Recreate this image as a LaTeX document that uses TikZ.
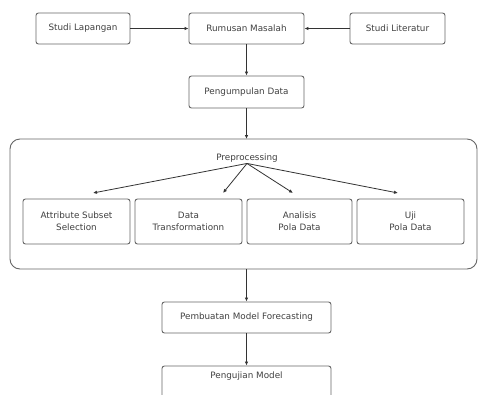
\documentclass[tikz,border=0pt]{standalone}
\usepackage{fontspec}
\setmainfont{DejaVu Sans}
\usetikzlibrary{arrows.meta,calc}
\begin{document}
\begin{tikzpicture}[x=1pt,y=-1pt,
  box/.style={draw=black!60,line width=0.9pt,rounded corners=2.5pt,minimum height=31pt,inner sep=1pt,font=\fontsize{8.8}{12}\selectfont,text=black!75,align=center},
  conn/.style={draw=black!80,line width=0.8pt,-{Latex[length=4pt,width=3.5pt]}}]
\useasboundingbox (0,0) rectangle (479,394);
\clip (0,0) rectangle (479,394);
\fill[white] (0,0) rectangle (479,394);
\node[box,minimum width=94pt] (lap) at (83,28.5) {Studi Lapangan};
\node[box,minimum width=115pt] (rum) at (246.5,28.5) {Rumusan Masalah};
\node[box,minimum width=95pt] (lit) at (397.5,28.5) {Studi Literatur};
\node[box,minimum width=115pt,minimum height=32pt] (pen) at (246.5,92) {Pengumpulan Data};
\draw[draw=black!60,line width=0.9pt,rounded corners=10pt] (10,139) rectangle (477,269);
\coordinate (bigtop) at (246.5,139);
\coordinate (bigbot) at (246.5,269);
\node[font=\fontsize{8.8}{12}\selectfont,text=black!75,inner sep=1pt] (pre) at (247,158) {Preprocessing};
\node[box,minimum width=107pt,minimum height=45pt] (b1) at (76.5,221.5) {Attribute Subset\\Selection};
\node[box,minimum width=107pt,minimum height=45pt] (b2) at (188.5,221.5) {Data\\Transformationn};
\node[box,minimum width=105pt,minimum height=45pt] (b3) at (299.5,221.5) {Analisis\\Pola Data};
\node[box,minimum width=107pt,minimum height=45pt] (b4) at (410.5,221.5) {Uji\\Pola Data};
\coordinate (t1) at (93,193);
\coordinate (t2) at (223,193);
\coordinate (t3) at (293,193);
\coordinate (t4) at (398,193);
\node[box,minimum width=169pt] (pem) at (246.5,317.5) {Pembuatan Model Forecasting};
\node[box,minimum width=169pt,minimum height=34pt,text depth=16pt] (uji) at (246.5,383) {Pengujian Model};
\draw[conn] (lap) -- (rum);
\draw[conn] (lit) -- (rum);
\draw[conn] (rum) -- (pen);
\draw[conn] (pen) -- (bigtop);
\draw[conn] (pre.south) -- (t1);
\draw[conn] (pre.south) -- (t2);
\draw[conn] (pre.south) -- (t3);
\draw[conn] (pre.south) -- (t4);
\draw[conn] (bigbot) -- (pem);
\draw[conn] (pem) -- (uji);
\end{tikzpicture}
\end{document}
